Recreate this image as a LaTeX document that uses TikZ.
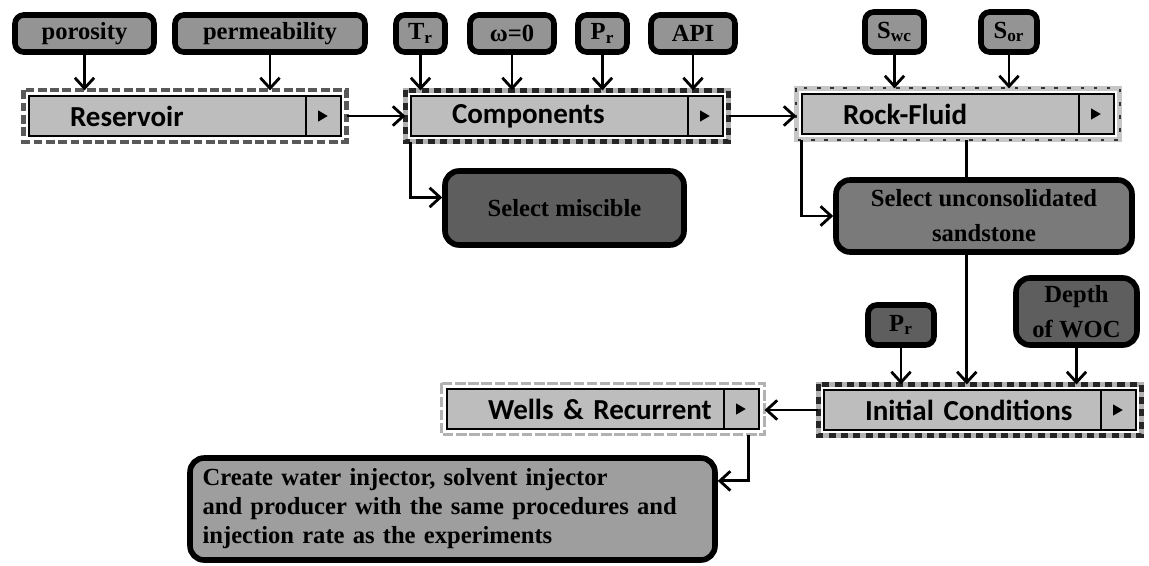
\documentclass[tikz,border=0pt]{standalone}
\usepackage{fontspec}
\setmainfont{Liberation Serif}
\newfontfamily\barfont{Carlito}
\usepackage{tikz}
\usetikzlibrary{arrows.meta}
\usepackage{xcolor}
\definecolor{barfill}{gray}{0.74}
\definecolor{parfill}{gray}{0.58}
\definecolor{midfill}{gray}{0.48}
\definecolor{darkfill}{gray}{0.37}
\definecolor{boxfill}{gray}{0.62}

\tikzset{
  param/.style={draw, line width=3.2pt, rounded corners=5pt, fill=parfill, inner sep=0pt,
    font=\fontsize{14}{20}\selectfont\bfseries, align=center},
  bigbox/.style={param, rounded corners=8pt},
  bar/.style={draw, line width=1.6pt, fill=barfill, minimum height=0.8cm, text width=4.6cm,
    inner xsep=0.82cm, outer sep=3.2pt, align=left,
    font=\fontsize{16.5}{20}\selectfont\barfont\bfseries,
    path picture={
      \draw[black, line width=1.4pt] ([xshift=-0.7cm]path picture bounding box.north east)
        -- ([xshift=-0.7cm]path picture bounding box.south east);
      \fill[black] ([xshift=-0.37cm]path picture bounding box.east) ++(-2.5pt,3.2pt)
        -- ++(5.5pt,-3.2pt) -- ++(-5.5pt,-3.2pt) -- cycle;
    }},
  resframe/.style={draw=black!65, line width=2.4pt, dash pattern=on 5pt off 2pt},
  compframe/.style={draw=black!30, line width=2.8pt,
    postaction={draw=black!85, line width=2.8pt, dash pattern=on 4pt off 3pt}},
  rockframe/.style={draw=black!22, line width=2.6pt,
    postaction={draw=black!80, line width=1.2pt, dash pattern=on 2pt off 5.5pt}},
  wellframe/.style={draw=black!30, line width=2pt, dash pattern=on 6pt off 1.5pt},
  link/.style={line width=1.6pt},
  arr/.style={link, -{Straight Barb[length=6pt,width=11pt,line width=1.6pt]}},
}

\begin{document}
\begin{tikzpicture}[x=0.02cm, y=-0.02cm]
\useasboundingbox (0,0) rectangle (1149,565);

\node[param, minimum width=2.78cm, minimum height=0.74cm] (poro) at (84.5,33.5) {porosity};
\node[param, minimum width=3.8cm, minimum height=0.74cm] (perm) at (270,33.5) {permeability};
\node[param, minimum width=0.98cm, minimum height=0.74cm] (tr) at (420.5,33.5) {T\textsubscript{r}};
\node[param, minimum width=1.68cm, minimum height=0.74cm] (omega) at (512,33.5) {ω=0};
\node[param, minimum width=0.98cm, minimum height=0.74cm] (pr) at (602.5,33.5) {P\textsubscript{r}};
\node[param, minimum width=1.68cm, minimum height=0.74cm] (api) at (693,33.5) {API};
\node[param, minimum width=1.18cm, minimum height=0.8cm] (swc) at (894.5,32) {S\textsubscript{wc}};
\node[param, minimum width=1.12cm, minimum height=0.8cm] (sor) at (1009,32) {S\textsubscript{or}};

\node[bar] (res) at (185,116) {Reservoir};
\node[bar] (comp) at (567,116) {Components};
\node[bar] (rock) at (958,114) {Rock-Fluid};
\node[bar] (init) at (980,410) {Initial Conditions};
\node[bar] (wells) at (603,409) {Wells \& Recurrent};
\draw[resframe] (res.north west) rectangle (res.south east);
\draw[compframe] (comp.north west) rectangle (comp.south east);
\draw[rockframe] (rock.north west) rectangle (rock.south east);
\draw[compframe] (init.north west) rectangle (init.south east);
\draw[wellframe] (wells.north west) rectangle (wells.south east);

\coordinate (rfd) at ([xshift=5pt]rock.south);
\draw[arr] (rfd) -- (rfd |- init.north);

\node[bigbox, fill=darkfill, minimum width=4.78cm, minimum height=1.48cm] (misc) at (564.5,208) {Select miscible};
\node[bigbox, fill=midfill, minimum width=5.92cm, minimum height=1.44cm] (sand) at (984,216) {Select unconsolidated\\sandstone};
\node[param, fill=darkfill, minimum width=1.32cm, minimum height=0.8cm] (pr2) at (901,325) {P\textsubscript{r}};
\node[bigbox, fill=darkfill, minimum width=2.42cm, minimum height=1.34cm] (depth) at (1076.5,311.5) {Depth\\of WOC};
\node[bigbox, fill=boxfill, minimum height=2.04cm, text width=10cm, inner xsep=0.25cm, align=left,
  font=\fontsize{14}{16.5}\selectfont\bfseries] (create) at (452.5,509)
  {Create water injector, solvent injector\\and producer with the same procedures and\\injection rate as the experiments};

\draw[arr] (poro) -- (poro |- res.north);
\draw[arr] (perm) -- (perm |- res.north);
\draw[arr] (res.east) -- (res.east -| comp.west);
\draw[arr] (tr) -- (tr |- comp.north);
\draw[arr] (omega) -- (omega |- comp.north);
\draw[arr] (pr) -- (pr |- comp.north);
\draw[arr] (api) -- (api |- comp.north);
\draw[arr] (comp.east) -- (comp.east -| rock.west);
\draw[arr] ([xshift=3pt]comp.south west) |- ([yshift=6pt]misc.west);
\draw[arr] (swc) -- (swc |- rock.north);
\draw[arr] (sor) -- (sor |- rock.north);
\draw[arr] ([xshift=3pt]rock.south west) |- (sand.west);
\draw[arr] (pr2) -- (pr2 |- init.north);
\draw[arr] (depth) -- (depth |- init.north);
\draw[arr] (init.west) -- (init.west -| wells.east);
\draw[arr] ([xshift=-9pt]wells.south east) |- ([yshift=16pt]create.east);
\end{tikzpicture}
\end{document}
